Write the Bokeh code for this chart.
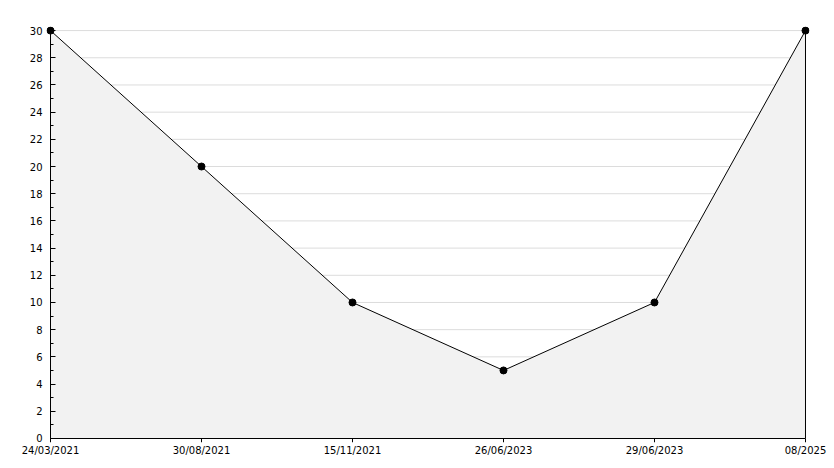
from bokeh.plotting import figure
from bokeh.models import Range1d, FixedTicker, LinearAxis, CustomJSTickFormatter
from bokeh.embed import file_html
from bokeh.resources import INLINE

dates = ["24/03/2021", "30/08/2021", "15/11/2021", "26/06/2023", "29/06/2023", "08/2025"]
values = [30, 20, 10, 5, 10, 30]
y_ticks = list(range(0, 31, 2))
y_minor = list(range(0, 31, 1))
y_min, y_max = 0, 30

xs = list(range(len(dates)))
xpad = 0.0265
ypad = 0.3

p = figure(width=834, height=468, output_backend="svg", toolbar_location=None,
           x_range=Range1d(xs[0] - xpad, xs[-1] + xpad),
           y_range=Range1d(y_min - ypad, y_max + ypad),
           min_border_left=46, min_border_right=25, min_border_top=26, min_border_bottom=26)
p.outline_line_color = None
p.background_fill_color = "white"
p.xgrid.grid_line_color = None
p.ygrid.grid_line_color = None

# horizontal grid lines
p.segment(x0=[xs[0]] * len(y_ticks), y0=y_ticks, x1=[xs[-1]] * len(y_ticks), y1=y_ticks,
          line_color="#dcdcdc", line_width=1)

p.varea(x=xs, y1=[y_min] * len(xs), y2=values, fill_color="#f2f2f2")
p.segment(x0=[xs[-1]], y0=[y_min], x1=[xs[-1]], y1=[values[-1]], line_color="black", line_width=1)
p.line(xs, values, line_color="black", line_width=1)
p.scatter(xs, values, marker="circle", size=7, fill_color="black", line_color="black")

# label-only axes at the frame edges
x_lab = p.xaxis[0]
y_lab = p.yaxis[0]
x_lab.ticker = FixedTicker(ticks=xs)
x_lab.major_label_overrides = {i: d for i, d in enumerate(dates)}
y_lab.ticker = FixedTicker(ticks=y_ticks)
for ax in (x_lab, y_lab):
    ax.axis_line_color = None
    ax.major_tick_line_color = None
    ax.minor_tick_line_color = None
    ax.major_tick_out = 0
    ax.major_tick_in = 0
    ax.minor_tick_out = 0
    ax.minor_tick_in = 0
    ax.major_label_text_font = "DejaVu Sans"
    ax.major_label_text_font_size = "10px"
    ax.major_label_text_color = "black"
x_lab.major_label_standoff = 2
y_lab.major_label_standoff = 4

# axis lines and ticks at the data origin
blank = CustomJSTickFormatter(code="return ''")
x_line = LinearAxis(fixed_location=y_min, bounds=(xs[0], xs[-1]),
                    ticker=FixedTicker(ticks=xs), formatter=blank,
                    major_tick_in=0, major_tick_out=4, minor_tick_line_color=None,
                    major_label_standoff=0, axis_line_color="black", major_tick_line_color="black")
y_line = LinearAxis(fixed_location=xs[0], bounds=(y_min, y_max),
                    ticker=FixedTicker(ticks=y_ticks, minor_ticks=y_minor), formatter=blank,
                    major_tick_in=5, major_tick_out=0, minor_tick_in=3, minor_tick_out=0,
                    major_label_standoff=0, axis_line_color="black",
                    major_tick_line_color="black", minor_tick_line_color="black")
p.add_layout(x_line, "below")
p.add_layout(y_line, "left")

open("out.html", "w").write(file_html(p, INLINE))
